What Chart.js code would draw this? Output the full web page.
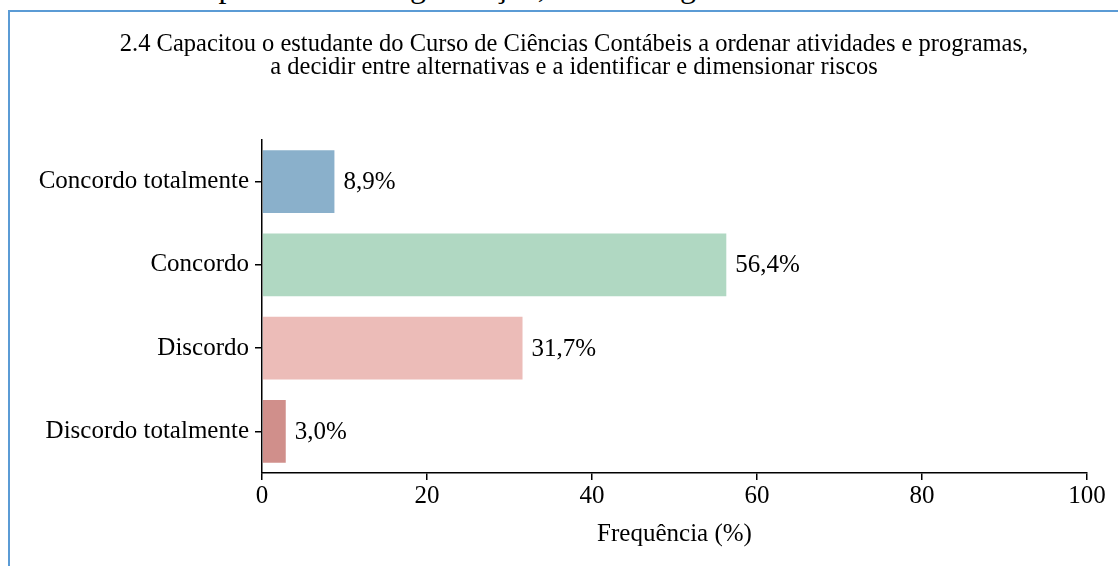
<!DOCTYPE html>
<html>
<head>
<meta charset="utf-8">
<script src="https://cdn.jsdelivr.net/npm/chart.js@4/dist/chart.umd.min.js"></script>
<style>
  html, body { margin: 0; padding: 0; background: #fff; }
  #wrap { position: relative; width: 1118px; height: 566px; overflow: hidden; background: #fff; }
  #cut { position: absolute; left: 8px; top: -30px; font-family: "Liberation Serif", "DejaVu Serif", serif; font-size: 32px; line-height: 32px; white-space: nowrap; color: #000; }
  #frameTop { position: absolute; left: 8px; top: 10px; width: 1110px; height: 2px; background: #5b9bd5; }
  #frameLeft { position: absolute; left: 8px; top: 10px; width: 2px; height: 556px; background: #5b9bd5; }
  #title { position: absolute; left: 74px; width: 1000px; top: 32px; text-align: center; font-family: "Liberation Serif", "DejaVu Serif", serif; font-size: 24.5px; line-height: 22.5px; color: #000; white-space: nowrap; }
  #c { position: absolute; left: 0; top: 0; }
</style>
</head>
<body>
<div id="wrap">
  <div id="cut">Gráfico 8 - Competências de organização, decisão e gestão de riscos</div>
  <div id="frameTop"></div>
  <div id="frameLeft"></div>
  <canvas id="c" width="1118" height="566"></canvas>
  <div id="title"></div>
</div>
<script>
const categories = ["Concordo totalmente", "Concordo", "Discordo", "Discordo totalmente"];
const values = [8.9, 56.4, 31.7, 3.0];
const valueLabels = ["8,9%", "56,4%", "31,7%", "3,0%"];
const barColors = ["#8ab0cb", "#b0d8c2", "#ecbcb8", "#d08f8b"];
const xTicks = [0, 20, 40, 60, 80, 100];
const titleLines = ["2.4 Capacitou o estudante do Curso de Ciências Contábeis a ordenar atividades e programas,",
                    "a decidir entre alternativas e a identificar e dimensionar riscos"];
const xTitle = "Frequência (%)";

const serif = "'Liberation Serif', 'DejaVu Serif', serif";

const titleEl = document.getElementById('title');
titleLines.forEach((line, i) => {
  if (i > 0) titleEl.appendChild(document.createElement('br'));
  titleEl.appendChild(document.createTextNode(line));
});

const valueLabelPlugin = {
  id: 'valueLabels',
  afterDatasetsDraw(chart) {
    const ctx = chart.ctx;
    const meta = chart.getDatasetMeta(0);
    ctx.save();
    ctx.font = "25px " + serif;
    ctx.fillStyle = "#000";
    ctx.textAlign = "left";
    ctx.textBaseline = "middle";
    meta.data.forEach((bar, i) => {
      ctx.fillText(valueLabels[i], bar.x + 8, bar.y + 1);
    });
    ctx.restore();
  }
};

new Chart(document.getElementById('c'), {
  type: 'bar',
  data: {
    labels: categories,
    datasets: [{
      data: values,
      backgroundColor: barColors,
      borderColor: "rgba(255,255,255,0.6)",
      borderWidth: 1,
      barPercentage: 0.78,
      categoryPercentage: 1.0
    }]
  },
  options: {
    indexAxis: 'y',
    responsive: false,
    animation: false,
    devicePixelRatio: 1,
    layout: { padding: { top: 140, left: 20, right: 31, bottom: 0 } },
    plugins: {
      legend: { display: false },
      tooltip: { enabled: false },
      title: { display: false }
    },
    scales: {
      x: {
        min: 0, max: 100,
        afterBuildTicks(scale) { scale.ticks = xTicks.map(v => ({ value: v })); },
        afterFit(scale) { scale.height = 93; },
        ticks: { color: "#000", font: { family: serif, size: 25 }, padding: 1, maxRotation: 0 },
        grid: { drawOnChartArea: false, drawTicks: true, tickLength: 7, color: "#000", lineWidth: 1.5 },
        border: { display: true, color: "#000", width: 1.5 },
        title: { display: true, text: xTitle, color: "#000", font: { family: serif, size: 25 }, padding: { top: 4, bottom: 17 } }
      },
      y: {
        afterFit(scale) { scale.width = 242; },
        ticks: { color: "#000", font: { family: serif, size: 25 }, padding: 6 },
        grid: { offset: false, drawOnChartArea: false, drawTicks: true, tickLength: 7, color: "#000", lineWidth: 1.5 },
        border: { display: true, color: "#000", width: 1.5 }
      }
    }
  },
  plugins: [valueLabelPlugin]
});
</script>
</body>
</html>
